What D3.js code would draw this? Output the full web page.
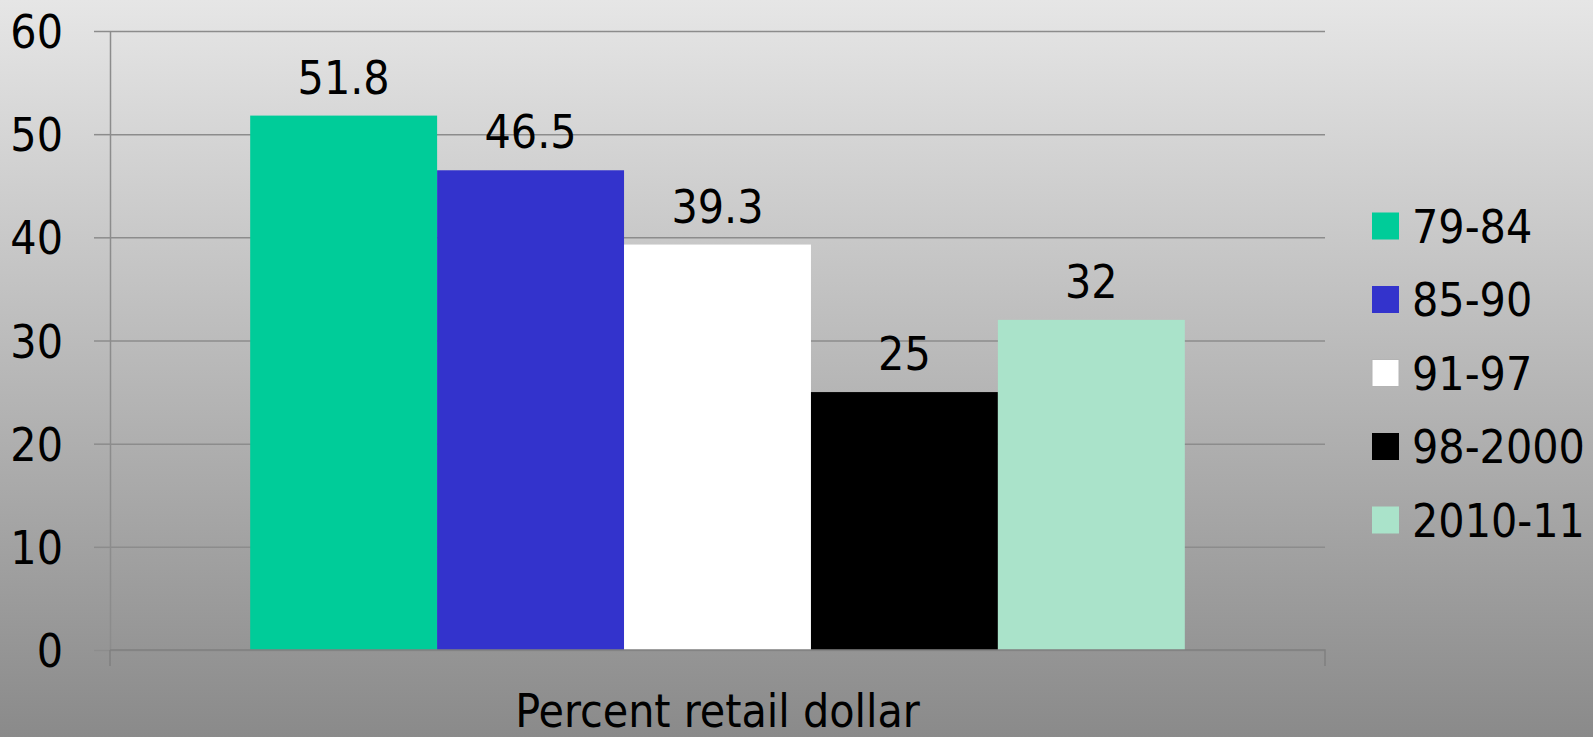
<!DOCTYPE html>
<html>
<head>
<meta charset="utf-8">
<script src="https://cdn.jsdelivr.net/npm/d3@7"></script>
<style>
  html, body { margin: 0; padding: 0; }
  body { width: 1593px; height: 737px; overflow: hidden; }
  text { font-family: "DejaVu Sans Condensed", "DejaVu Sans", sans-serif; fill: #000; }
</style>
</head>
<body>
<svg id="chart" width="1593" height="737"></svg>
<script>
const categories = ["Percent retail dollar"];
const seriesNames = ["79-84", "85-90", "91-97", "98-2000", "2010-11"];
const seriesValues = [51.8, 46.5, 39.3, 25, 32];
const seriesColors = ["#00CC99", "#3333CC", "#FFFFFF", "#000000", "#AAE3CA"];
const yTicks = [0, 10, 20, 30, 40, 50, 60];

const W = 1593, H = 737;
const plot = { left: 110, right: 1325, top: 31, bottom: 650 };
const fontSize = 46;

const svg = d3.select("#chart");

// background gradient
const defs = svg.append("defs");
const grad = defs.append("linearGradient").attr("id", "bg")
  .attr("x1", 0).attr("y1", 0).attr("x2", 0).attr("y2", 1);
grad.append("stop").attr("offset", "0%").attr("stop-color", "#e6e6e6");
grad.append("stop").attr("offset", "100%").attr("stop-color", "#8a8a8a");
svg.append("rect").attr("width", W).attr("height", H).attr("fill", "url(#bg)");

const y = d3.scaleLinear().domain([0, 60]).range([plot.bottom, plot.top]);
const x0 = d3.scaleBand().domain(categories).range([plot.left, plot.right]).padding(0);
const bw = x0.bandwidth();
const gapRatio = 1.5;
const barW = bw / (seriesNames.length + gapRatio);
const x1 = d3.scaleBand().domain(seriesNames)
  .range([barW * gapRatio / 2, bw - barW * gapRatio / 2]).padding(0);

// gridlines
const grid = svg.append("g").attr("transform", `translate(${plot.left},0)`)
  .call(d3.axisLeft(y).tickValues(yTicks).tickSize(-(plot.right - plot.left)).tickFormat(""));
grid.select(".domain").remove();
grid.selectAll(".tick line").attr("stroke", "#8c8c8c").attr("stroke-width", 1.5);

// y axis with outside ticks and labels
const yAxis = svg.append("g").attr("transform", `translate(${plot.left},0)`)
  .call(d3.axisLeft(y).tickValues(yTicks).tickSize(16).tickSizeOuter(0).tickPadding(31).tickFormat(d3.format("d")));
yAxis.select(".domain").attr("stroke", "#8c8c8c").attr("stroke-width", 1.5);
yAxis.selectAll(".tick line").attr("stroke", "#8c8c8c").attr("stroke-width", 1.5);
yAxis.selectAll(".tick text").attr("font-size", fontSize)
  .attr("font-family", "'DejaVu Sans Condensed', 'DejaVu Sans', sans-serif")
  .attr("fill", "#000").attr("dy", "0.36em");

// bars
const gCat = svg.append("g").selectAll("g").data(categories).join("g")
  .attr("transform", d => `translate(${x0(d)},0)`);

gCat.selectAll("rect").data(seriesNames.map((s, i) => ({ s, v: seriesValues[i], c: seriesColors[i] })))
  .join("rect")
  .attr("x", d => x1(d.s))
  .attr("y", d => y(d.v))
  .attr("width", x1.bandwidth())
  .attr("height", d => y(0) - y(d.v))
  .attr("fill", d => d.c);

gCat.selectAll("text.lbl").data(seriesNames.map((s, i) => ({ s, v: seriesValues[i] })))
  .join("text").attr("class", "lbl")
  .attr("x", d => x1(d.s) + x1.bandwidth() / 2)
  .attr("y", d => y(d.v) - 22)
  .attr("text-anchor", "middle")
  .attr("font-size", fontSize)
  .text(d => d.v);

// x axis
const xAxis = svg.append("g").attr("transform", `translate(0,${plot.bottom})`)
  .call(d3.axisBottom(x0).tickSize(0).tickPadding(0));
xAxis.select(".domain").remove();
xAxis.selectAll(".tick text").remove();
const xLine = svg.append("g").attr("stroke", "#808080").attr("stroke-width", 1.5).attr("fill", "none");
xLine.append("path")
  .attr("d", `M${plot.left},${plot.bottom}H${plot.right}V${plot.bottom + 16}M${plot.left},${plot.bottom}V${plot.bottom + 16}`);

svg.append("text")
  .attr("x", x0(categories[0]) + bw / 2)
  .attr("y", 727)
  .attr("text-anchor", "middle")
  .attr("font-size", fontSize)
  .text(categories[0]);

// legend
const legend = svg.append("g");
const legY0 = 226, legStep = 73.5;
seriesNames.forEach((s, i) => {
  const cy = legY0 + i * legStep;
  legend.append("rect")
    .attr("x", 1372).attr("y", cy - 13.5).attr("width", 27).attr("height", 27)
    .attr("fill", seriesColors[i])
    .attr("stroke", i === 2 ? "#b4b4b4" : "none").attr("stroke-width", 1);
  legend.append("text")
    .attr("x", 1412).attr("y", cy).attr("dy", "0.36em")
    .attr("font-size", fontSize)
    .text(s);
});
</script>
</body>
</html>
